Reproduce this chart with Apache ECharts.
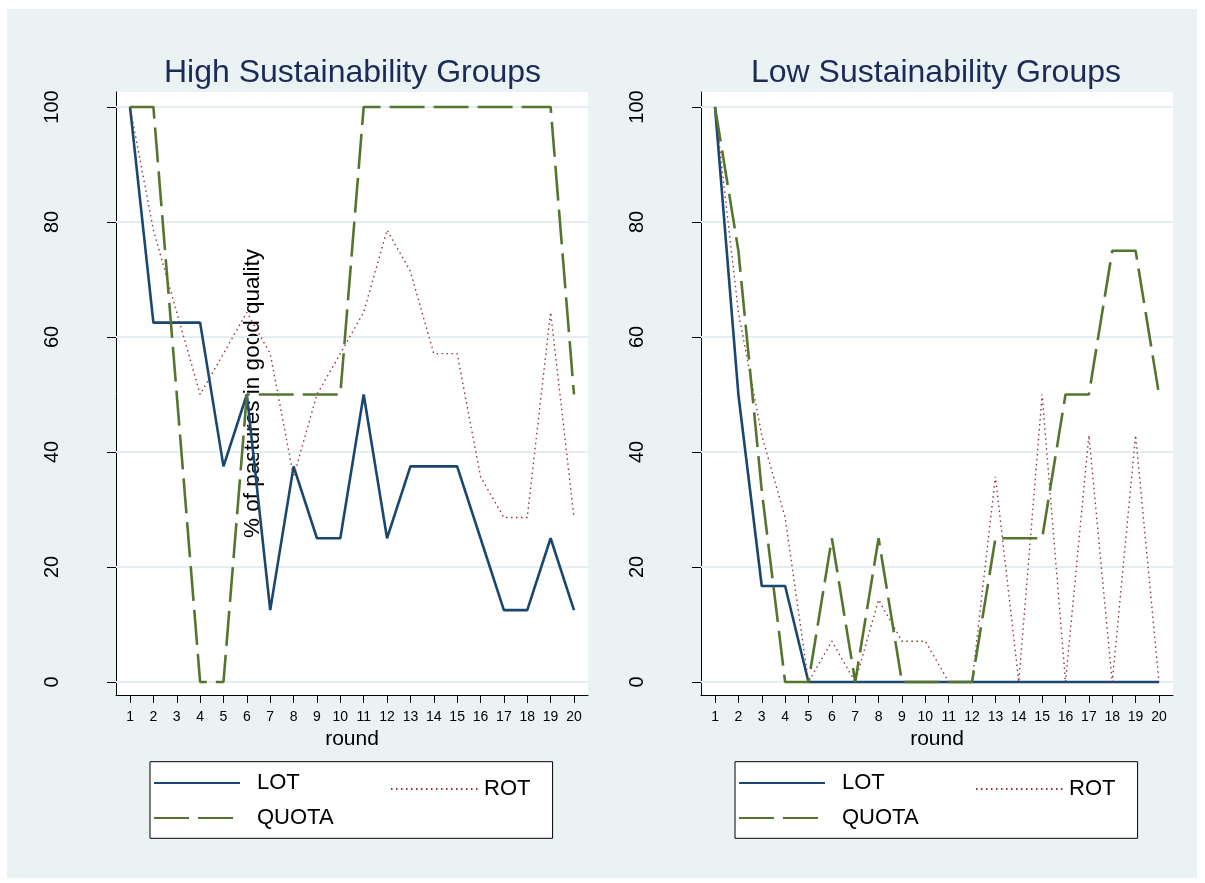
<!DOCTYPE html>
<html><head><meta charset="utf-8">
<script src="https://cdn.jsdelivr.net/npm/echarts@6/dist/echarts.min.js"></script>
<style>
html,body{margin:0;padding:0;background:#fff;}
#bg{position:absolute;left:7px;top:9px;width:1190px;height:869px;background:#eaf2f3;}
#chart{position:absolute;left:0;top:0;width:1205px;height:883px;}
</style></head><body><div id="bg"></div><div id="chart"></div>
<script>
const rounds = [1,2,3,4,5,6,7,8,9,10,11,12,13,14,15,16,17,18,19,20];
const yTicks = [0,20,40,60,80,100];
const panelTitles = ['High Sustainability Groups', 'Low Sustainability Groups'];
const seriesNames = ['LOT', 'ROT', 'QUOTA'];

const highLOT   = [100,62.5,62.5,62.5,37.5,50,12.5,37.5,25,25,50,25,37.5,37.5,37.5,25,12.5,12.5,25,12.5];
const highROT   = [100,78.6,64.3,50,57.1,64.3,57.1,35.7,50,57.1,64.3,78.6,71.4,57.1,57.1,35.7,28.6,28.6,64.3,28.6];
const highQUOTA = [100,100,50,0,0,50,50,50,50,50,100,100,100,100,100,100,100,100,100,50];

const lowLOT    = [100,50,16.7,16.7,0,0,0,0,0,0,0,0,0,0,0,0,0,0,0,0];
const lowROT    = [100,64.3,42.9,28.6,0,7.1,0,14.3,7.1,7.1,0,0,35.7,0,50,0,42.9,0,42.9,0];
const lowQUOTA  = [100,75,33.3,0,0,25,0,25,0,0,0,0,25,25,25,50,50,75,75,50];

const FONT = 'Liberation Sans, Arial, sans-serif';
const styles = {
  LOT:   {color:'#1a476f', width:2.6, type:'solid'},
  ROT:   {color:'#90353b', width:1.4, type:[1.5,3.5]},
  QUOTA: {color:'#55752f', width:2.6, type:[35,9]}
};
const panels = [
  {title: panelTitles[0], data: {LOT: highLOT, ROT: highROT, QUOTA: highQUOTA}, left: 116, titleLeft: 164, yName: '% of pastures in good quality'},
  {title: panelTitles[1], data: {LOT: lowLOT, ROT: lowROT, QUOTA: lowQUOTA}, left: 701, titleLeft: 751, yName: ''}
];

const grid = [], xAxis = [], yAxis = [], series = [], title = [], legend = [];
panels.forEach((p, i) => {
  grid.push({left: p.left, top: 92, width: 472, height: 603, show: true, backgroundColor: '#fff', borderWidth: 0});
  title.push({text: p.title, left: p.titleLeft, top: 57, padding: 0,
    textStyle: {fontFamily: FONT, fontSize: 32, fontWeight: 'normal', color: '#1c2a58'}});
  xAxis.push({gridIndex: i, type: 'value', min: 0.4, max: 20.6,
    axisLine: {show: true, onZero: false, lineStyle: {color: '#000', width: 1}},
    axisTick: {show: true, customValues: rounds, length: 8, lineStyle: {color: '#000', width: 1}},
    axisLabel: {customValues: rounds, fontFamily: FONT, fontSize: 14, color: '#000', margin: 15},
    splitLine: {show: false},
    name: 'round', nameLocation: 'middle', nameGap: 33,
    nameTextStyle: {fontFamily: FONT, fontSize: 21, color: '#000'}});
  yAxis.push({gridIndex: i, type: 'value', min: -2.26, max: 102.6,
    axisLine: {show: true, onZero: false, lineStyle: {color: '#000', width: 1}},
    axisTick: {show: true, customValues: yTicks, length: 9, lineStyle: {color: '#000', width: 1}},
    axisLabel: {customValues: yTicks, rotate: 90, fontFamily: FONT, fontSize: 20, color: '#000', margin: 54},
    splitLine: {show: false},
    name: p.yName, nameLocation: 'middle', nameRotate: 90, nameGap: -148,
    nameTextStyle: {fontFamily: FONT, fontSize: 22.5, color: '#000'}});
  series.push({type: 'line', name: 'grid' + i, xAxisIndex: i, yAxisIndex: i, data: [], silent: true, z: 1,
    markLine: {silent: true, symbol: 'none', animation: false, z: 1, label: {show: false},
      lineStyle: {color: '#e6eef1', width: 2, type: 'solid'},
      data: yTicks.map(v => ({yAxis: v}))}});
  seriesNames.forEach(n => {
    series.push({type: 'line', name: n, xAxisIndex: i, yAxisIndex: i, z: 10,
      symbol: 'none', animation: false,
      lineStyle: styles[n],
      itemStyle: {color: styles[n].color},
      data: rounds.map((r, k) => [r, p.data[n][k]])});
  });
  const lx = p.left + 34;
  legend.push({data: ['LOT', 'QUOTA'], orient: 'vertical', left: lx, top: 761.7,
    padding: [10.3, 219, 9.3, 3], itemGap: 13, itemWidth: 86, itemHeight: 14,
    backgroundColor: '#fff', borderColor: '#000', borderWidth: 1, borderRadius: 0,
    selectedMode: false, itemStyle: {opacity: 0},
    textStyle: {fontFamily: FONT, fontSize: 22, color: '#000', padding: [0,0,0,12]}});
  legend.push({data: ['ROT'], orient: 'vertical', left: lx + 240, top: 778,
    padding: 0, itemWidth: 87, itemHeight: 14, selectedMode: false, itemStyle: {opacity: 0},
    textStyle: {fontFamily: FONT, fontSize: 22, color: '#000', padding: [0,0,0,1]}});
});

const chart = echarts.init(document.getElementById('chart'), null, {renderer: 'canvas'});
chart.setOption({backgroundColor: 'transparent', animation: false, title, grid, xAxis, yAxis, series, legend});
</script></body></html>
